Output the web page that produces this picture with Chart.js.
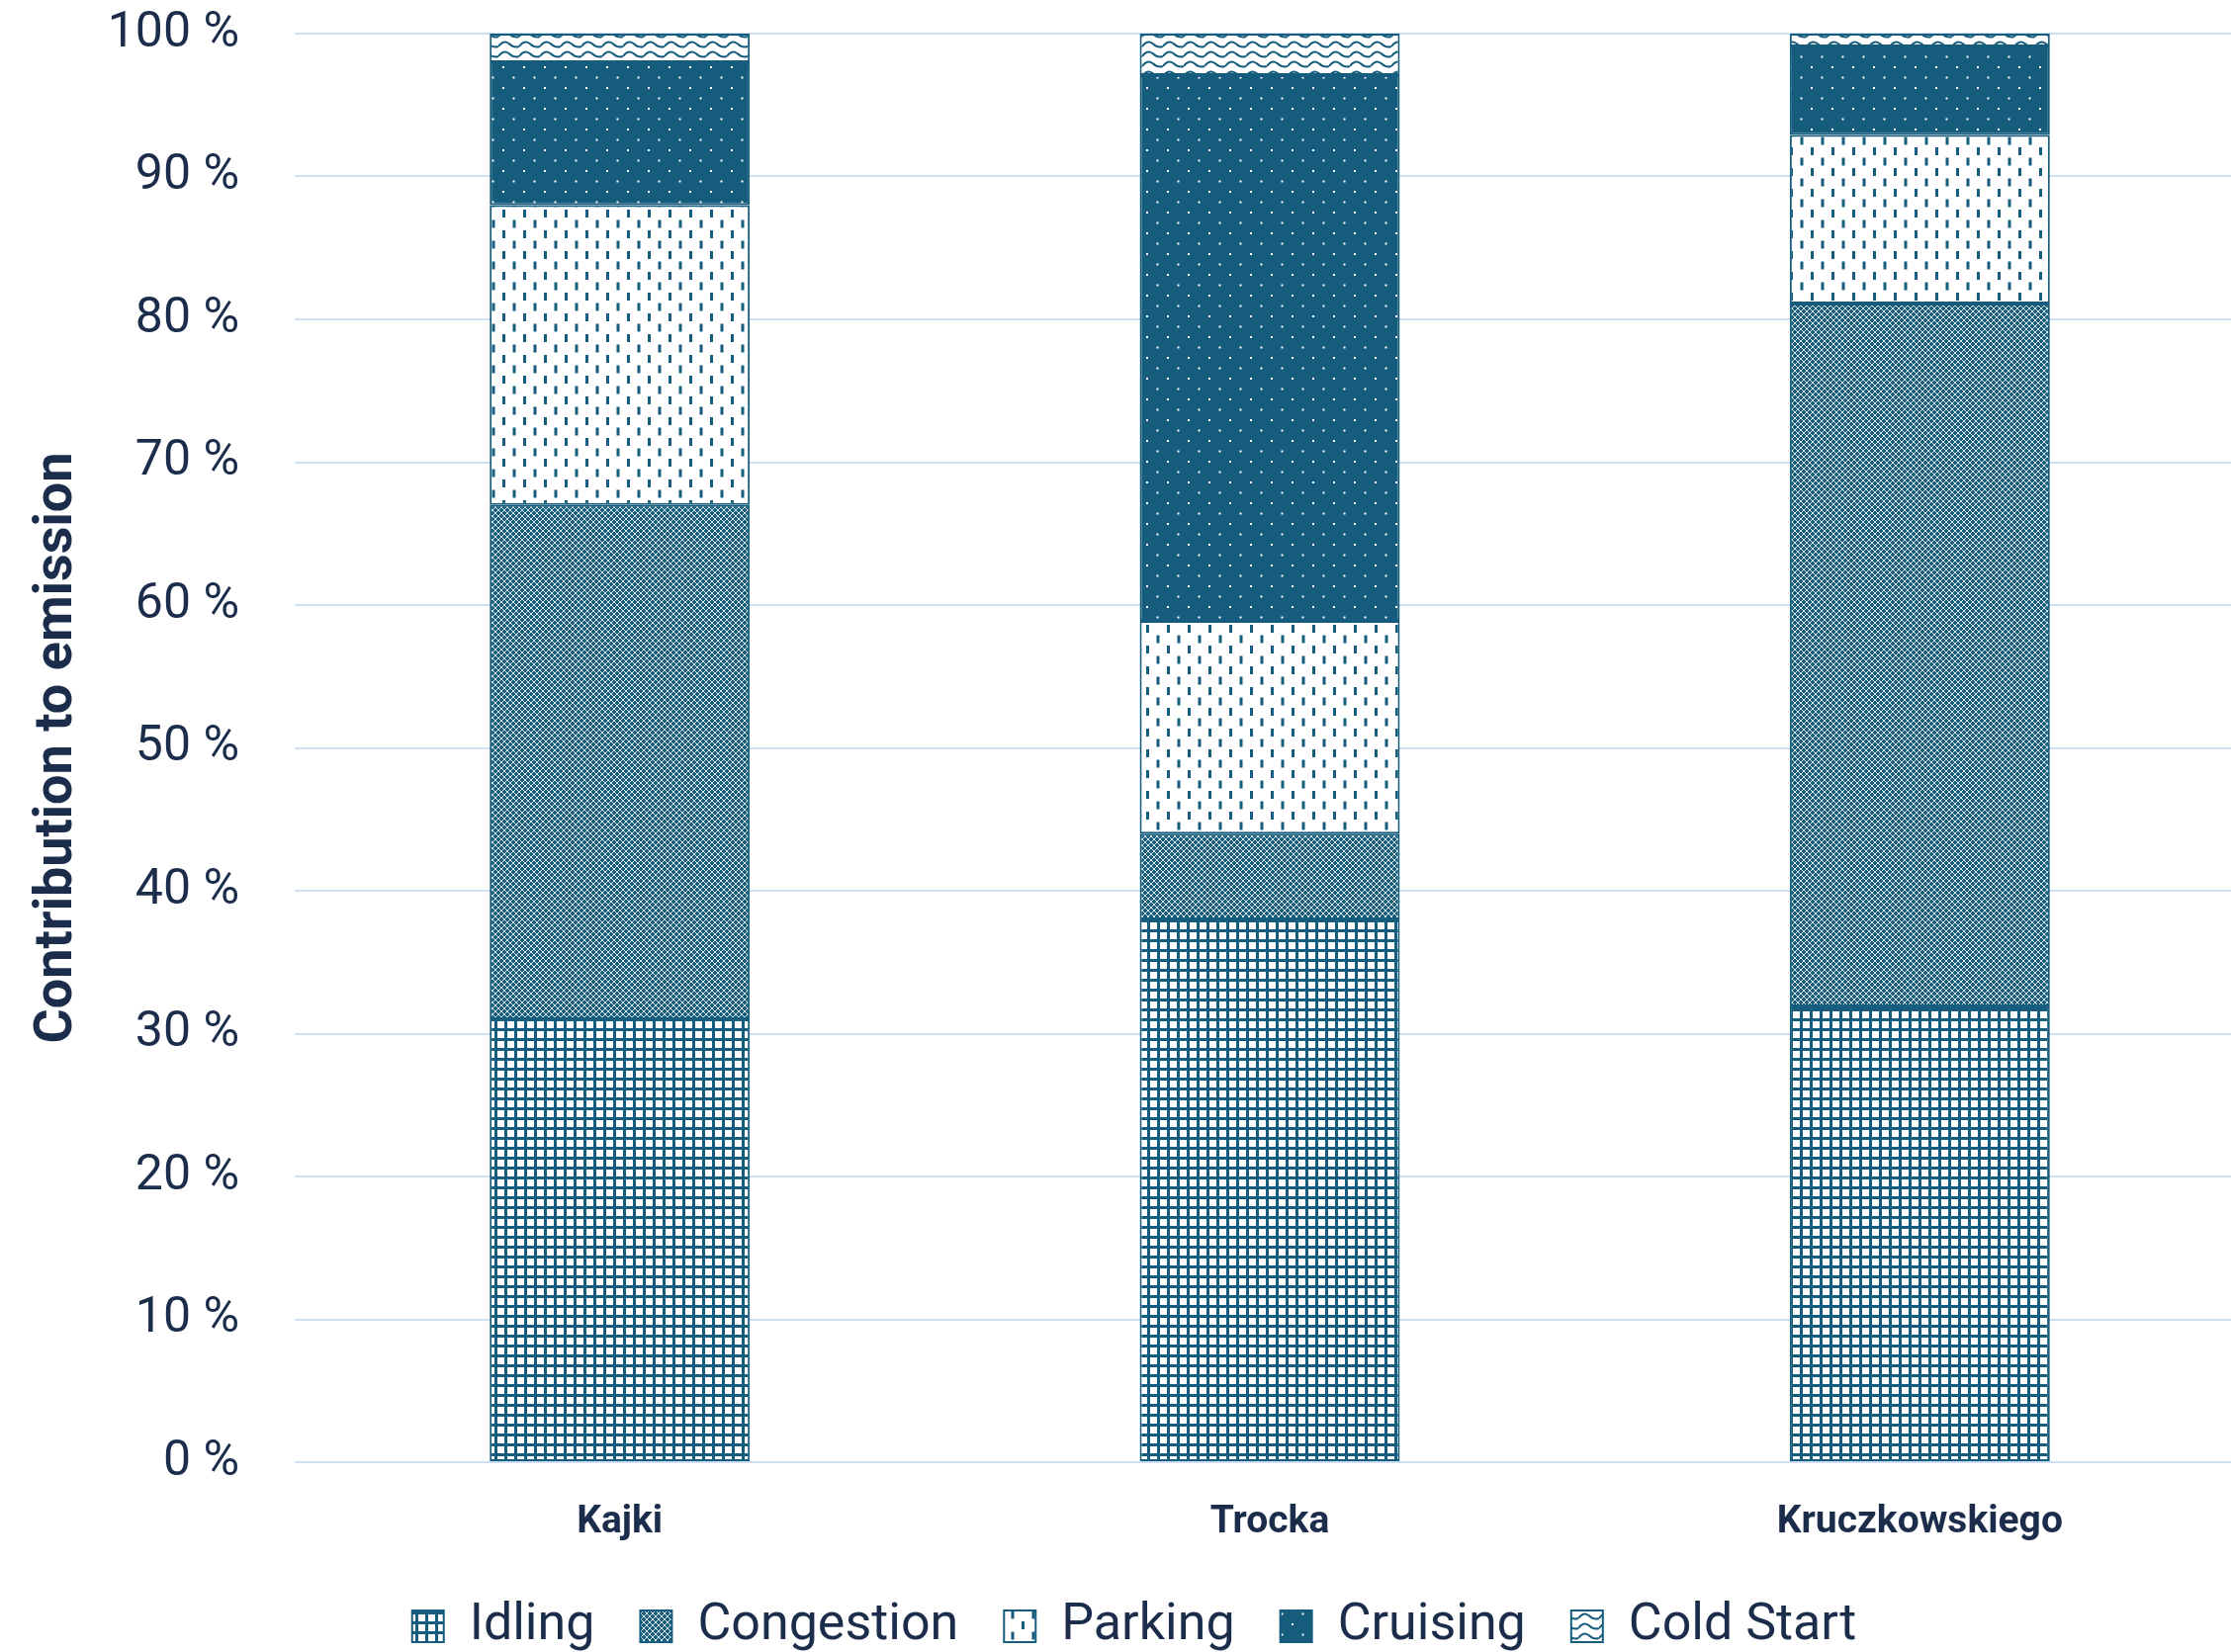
<!DOCTYPE html>
<html>
<head>
<meta charset="utf-8">
<script src="https://cdn.jsdelivr.net/npm/chart.js@4.4.1/dist/chart.umd.min.js"></script>
<style>
  html, body { margin: 0; padding: 0; background: #fff; overflow: hidden; }
  canvas { display: block; }
</style>
</head>
<body>
<!-- plot area runs a little past the right edge, as in the original -->
<canvas id="myChart" width="2270" height="1671"></canvas>
<script>
// values (percent of total emission)
const categories = ['Kajki', 'Trocka', 'Kruczkowskiego'];
const idling = [31, 38, 31.9];
const congestion = [36, 6, 49.2];
const parking = [21, 14.9, 11.8];
const cruising = [10, 38.2, 6.2];
const coldStart = [2, 2.9, 0.9];
const yTicks = [0, 10, 20, 30, 40, 50, 60, 70, 80, 90, 100];

const TEAL = '#165c7c';
const TEXT = '#1b2d4b';

function tile(w, h, draw) {
	var c = document.createElement('canvas');
	c.width = w;
	c.height = h;
	var g = c.getContext('2d');
	draw(g, w, h);
	return g.createPattern(c, 'repeat');
}

// square grid
var gridPat = tile(10, 10, function (g) {
	g.fillStyle = '#fff';
	g.fillRect(0, 0, 10, 10);
	g.fillStyle = TEAL;
	g.fillRect(0, 0, 10, 3);
	g.fillRect(0, 0, 3, 10);
});

// dense diamond mesh
var meshPat = tile(6, 6, function (g) {
	g.fillStyle = TEAL;
	g.fillRect(0, 0, 6, 6);
	g.fillStyle = 'rgba(255,255,255,0.85)';
	for (var i = 0; i < 6; i++) {
		g.fillRect(i, i, 1, 1);
		g.fillRect(5 - i, i, 1, 1);
	}
});

// staggered short vertical dashes
var dashPat = tile(21, 21, function (g) {
	g.fillStyle = '#fff';
	g.fillRect(0, 0, 21, 21);
	g.fillStyle = TEAL;
	g.fillRect(4, 2, 3, 8);
	g.fillRect(14.5, 12.5, 3, 8);
});

// solid with staggered dots
var dotPat = tile(21, 21, function (g) {
	g.fillStyle = TEAL;
	g.fillRect(0, 0, 21, 21);
	g.fillStyle = '#fff';
	g.fillRect(4, 4, 2, 2);
	g.fillRect(14.5, 14.5, 2, 2);
});

// waves
var wavePat = tile(21, 10, function (g) {
	g.fillStyle = '#fff';
	g.fillRect(0, 0, 21, 10);
	g.strokeStyle = TEAL;
	g.lineWidth = 2;
	g.beginPath();
	g.moveTo(0, 7);
	g.quadraticCurveTo(5, 0, 10.5, 4);
	g.quadraticCurveTo(16, 9, 21, 7);
	g.stroke();
});

function series(label, data, pat) {
	return {
		label: label,
		data: data,
		backgroundColor: pat,
		borderColor: TEAL,
		borderWidth: 2,
		borderSkipped: false,
		categoryPercentage: 0.4,
		barPercentage: 1
	};
}

new Chart(document.getElementById('myChart'), {
	type: 'bar',
	data: {
		labels: categories,
		datasets: [
			series('Idling', idling, gridPat),
			series('Congestion', congestion, meshPat),
			series('Parking', parking, dashPat),
			series('Cruising', cruising, dotPat),
			series('Cold Start', coldStart, wavePat)
		]
	},
	options: {
		responsive: false,
		animation: false,
		layout: { padding: { top: 34, left: 24, right: 0, bottom: -10 } },
		plugins: {
			tooltip: { enabled: false },
			legend: {
				position: 'bottom',
				align: 'center',
				labels: {
					color: TEXT,
					font: { family: 'Roboto', size: 52 },
					boxWidth: 32,
					boxHeight: 32,
					padding: 46
				}
			}
		},
		scales: {
			x: {
				stacked: true,
				grid: { display: false },
				border: { display: false },
				ticks: {
					color: TEXT,
					padding: 30,
					font: { family: 'Roboto', size: 39, weight: 'bold' }
				},
				afterFit: function (s) { s.height = 94; }
			},
			y: {
				stacked: true,
				min: 0,
				max: 100,
				afterBuildTicks: function (s) {
					s.ticks = yTicks.map(function (v) { return { value: v }; });
				},
				afterFit: function (s) {
					s.width = 274;
					s.paddingTop = 30;
					s.paddingBottom = 30;
				},
				grid: { color: '#cddff1', lineWidth: 2, drawTicks: false },
				border: { display: false },
				ticks: {
					color: TEXT,
					padding: 56,
					font: { family: 'Roboto', size: 50 },
					callback: function (v) { return v + ' %'; }
				},
				title: {
					display: true,
					text: 'Contribution to emission',
					color: TEXT,
					padding: { top: 2, bottom: 0 },
					font: { family: 'Roboto', size: 54, weight: 'bold' }
				}
			}
		}
	}
});
</script>
</body>
</html>
